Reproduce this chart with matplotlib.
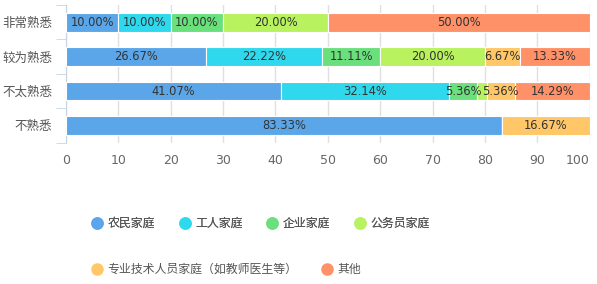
import numpy as np
import matplotlib
matplotlib.use('Agg')
import matplotlib.pyplot as plt
from matplotlib.lines import Line2D

plt.rcParams['font.family'] = ['Noto Sans CJK SC', 'DejaVu Sans']

categories = ['非常熟悉', '较为熟悉', '不太熟悉', '不熟悉']
series = ['农民家庭', '工人家庭', '企业家庭', '公务员家庭',
          '专业技术人员家庭（如教师医生等）', '其他']
nongmin = [10.00, 26.67, 41.07, 83.33]
gongren = [10.00, 22.22, 32.14, 0]
qiye = [10.00, 11.11, 5.36, 0]
gongwuyuan = [20.00, 20.00, 1.79, 0]
zhuanye = [0, 6.67, 5.36, 16.67]
qita = [50.00, 13.33, 14.29, 0]
colors = ['#5aa6e8', '#2fd8ec', '#6ae07c', '#b8f25e', '#ffc767', '#ff9169']

values = [nongmin, gongren, qiye, gongwuyuan, zhuanye, qita]

fig = plt.figure(figsize=(5.97, 2.84), dpi=100)
ax = fig.add_axes([0.1106, 0.498, 0.877, 0.484])

y = np.arange(len(categories))
left = np.zeros(len(categories))
for name, vals, c in zip(series, values, colors):
    vals = np.array(vals)
    bars = ax.barh(y, vals, left=left, height=0.55, color=c,
                   edgecolor='white', linewidth=0.8, label=name, zorder=3)
    for b, v in zip(bars, vals):
        if v >= 5:
            ax.text(b.get_x() + b.get_width() / 2, b.get_y() + b.get_height() / 2,
                    f'{v:.2f}%', ha='center', va='center', fontsize=8.3,
                    color='#333333', family=['DejaVu Sans'], zorder=4)
    left += vals

ax.set_xlim(0, 100)
ax.set_ylim(3.5, -0.5)
ax.set_xticks(range(0, 101, 10))
ax.grid(axis='x', color='#e0e0e0', linewidth=1, zorder=0)
ax.set_yticks(y)
ax.set_yticklabels(categories, fontsize=9, color='#555555')
ax.set_yticks(np.arange(-0.5, 4, 1), minor=True)
ax.tick_params(axis='y', which='major', length=0, pad=10)
ax.tick_params(axis='y', which='minor', length=7, color='#c8d4e4', direction='out')
ax.tick_params(axis='x', length=0, pad=8, labelsize=9, labelcolor='#666666')
for lab in ax.get_xticklabels():
    lab.set_family(['DejaVu Sans'])
ax.get_xticklabels()[-1].set_horizontalalignment('right')
for s in ['top', 'right', 'bottom']:
    ax.spines[s].set_visible(False)
ax.spines['left'].set_color('#c8d4e4')

handles = [Line2D([], [], marker='o', linestyle='none', markersize=8,
                  markerfacecolor=c, markeredgecolor=c) for c in colors]
leg_kw = dict(loc='center left', frameon=False, fontsize=8.6,
              handlelength=1.0, handletextpad=0.35, columnspacing=2.0,
              labelcolor='#555555')
leg1 = fig.legend(handles[:4], series[:4], bbox_to_anchor=(0.135, 0.213),
                  ncol=4, **leg_kw)
leg2 = fig.legend(handles[4:], series[4:], bbox_to_anchor=(0.135, 0.052),
                  ncol=2, **leg_kw)
fig.add_artist(leg1)

fig.savefig('out.png', dpi=100)
